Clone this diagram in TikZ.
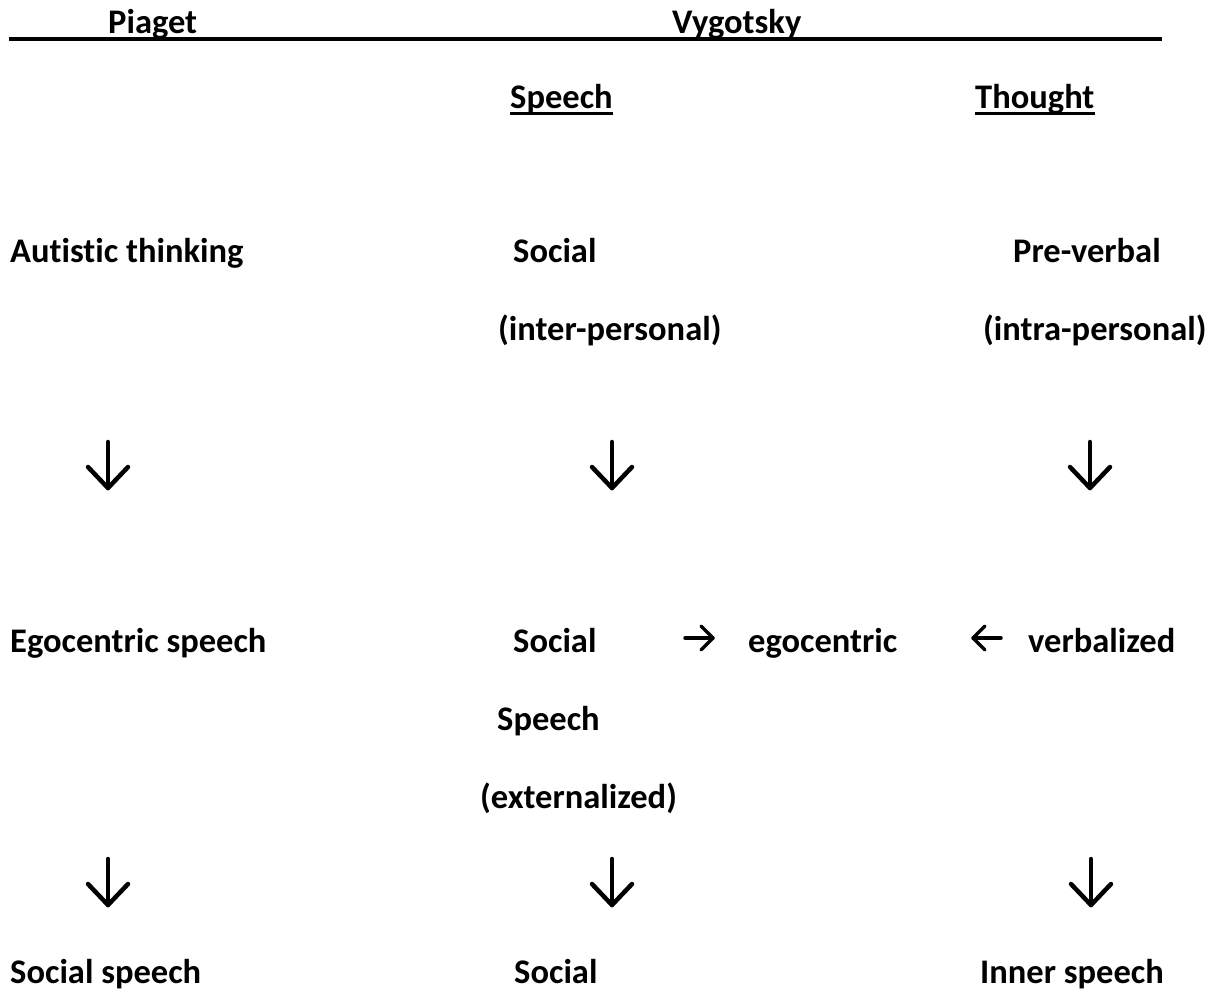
\documentclass[tikz,border=0pt]{standalone}
\usepackage{fontspec}
\setmainfont{Carlito}[Ligatures={NoCommon}]
\begin{document}
\begin{tikzpicture}[x=1pt,y=-1pt,
  lbl/.style={anchor=base west, inner sep=0pt, font=\fontsize{34.5}{41}\selectfont\bfseries},
  arr/.style={line width=4.5pt, line cap=round, line join=round},
  harr/.style={line width=3.5pt, line cap=round, line join=round},
  rulestyle/.style={line width=4pt},
  uline/.style={line width=3pt},
  pics/dn/.style={code={
    \draw[arr] (0,-46) -- (0,0);
    \draw[arr] (-20,-21) -- (0,0) -- (20,-21);}},
  pics/rt/.style={code={
    \draw[harr] (-28,0) -- (0,0);
    \draw[harr] (-12,-12) -- (0,0) -- (-12,12);}},
  pics/lt/.style={code={
    \draw[harr] (28,0) -- (0,0);
    \draw[harr] (12,-12) -- (0,0) -- (12,12);}}]
\useasboundingbox (0,0) rectangle (1213,993);
% header
\node[lbl] (piaget) at (108,33) {Piaget};
\node[lbl] (vygotsky) at (672,33) {Vygotsky};
\coordinate (hl) at (9,39);
\coordinate (hr) at (1162,39);
\draw[rulestyle] (hl) -- (hr);
\node[lbl] (speechhead) at (510,108) {Speech};
\node[lbl] (thoughthead) at (975,108) {Thought};
\draw[uline] ([yshift=-5.5pt]speechhead.base west) -- ([yshift=-5.5pt]speechhead.base east);
\draw[uline] ([yshift=-5.5pt]thoughthead.base west) -- ([yshift=-5.5pt]thoughthead.base east);
% first stage
\node[lbl] (autistic) at (10,262) {Autistic thinking};
\node[lbl] (social1) at (513,262) {Social};
\node[lbl] (preverbal) at (1013,262) {Pre-verbal};
\node[lbl] (inter) at (498,340) {(inter-personal)};
\node[lbl] (intra) at (983,340) {(intra-personal)};
% arrows row 1
\coordinate (a1) at (108,488);
\coordinate (a2) at (612,488);
\coordinate (a3) at (1090,488);
\pic at (a1) {dn};
\pic at (a2) {dn};
\pic at (a3) {dn};
% second stage
\node[lbl] (ego) at (10,652) {Egocentric speech};
\node[lbl] (social2) at (513,652) {Social};
\node[lbl] (egocentric) at (748,652) {egocentric};
\node[lbl] (verbalized) at (1028,652) {verbalized};
\coordinate (r1) at (713,638);
\coordinate (l1) at (973,638);
\pic at (r1) {rt};
\pic at (l1) {lt};
\node[lbl] (speech2) at (497,730) {Speech};
\node[lbl] (ext) at (480,808) {(externalized)};
% arrows row 2
\coordinate (b1) at (108,905);
\coordinate (b2) at (612,905);
\coordinate (b3) at (1091,905);
\pic at (b1) {dn};
\pic at (b2) {dn};
\pic at (b3) {dn};
% third stage
\node[lbl] (socialspeech) at (10,983) {Social speech};
\node[lbl] (social3) at (514,983) {Social};
\node[lbl] (inner) at (980,983) {Inner speech};
\end{tikzpicture}
\end{document}
